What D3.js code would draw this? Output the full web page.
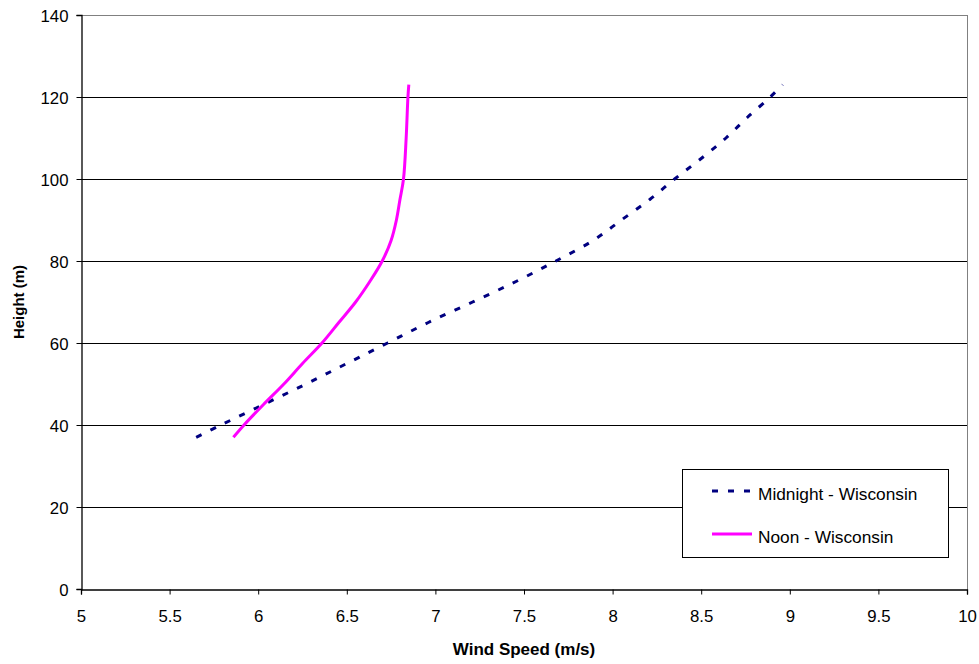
<!DOCTYPE html>
<html>
<head>
<meta charset="utf-8">
<script src="https://cdn.jsdelivr.net/npm/d3@7"></script>
<style>
  html, body { margin: 0; padding: 0; background: #fff; }
  svg { display: block; font-family: "Liberation Sans", Arial, sans-serif; }
</style>
</head>
<body>
<svg id="chart" width="979" height="664"></svg>
<script>
// ---- data ----
const xTicks = [5, 5.5, 6, 6.5, 7, 7.5, 8, 8.5, 9, 9.5, 10];
const yTicks = [0, 20, 40, 60, 80, 100, 120, 140];

const midnightHeight = [37, 40, 45, 50, 55, 60, 65, 70, 75, 80, 85, 90, 95, 100, 105, 110, 115, 120, 123];
const midnightSpeed  = [5.65, 5.79, 6.03, 6.27, 6.50, 6.73, 6.96, 7.21, 7.455, 7.68, 7.89, 8.05, 8.21, 8.35, 8.50, 8.64, 8.76, 8.89, 8.96];

const noonHeight = [37, 40, 45, 50, 55, 60, 65, 70, 75, 80, 85, 90, 95, 100, 110, 120, 123];
const noonSpeed  = [5.86, 5.92, 6.03, 6.145, 6.25, 6.36, 6.455, 6.55, 6.63, 6.70, 6.75, 6.78, 6.80, 6.82, 6.835, 6.845, 6.85];

const seriesNames = ["Midnight - Wisconsin", "Noon - Wisconsin"];

(function () {
// ---- layout ----
const svg = d3.select("#chart");
const pLeft = 81, pRight = 967, pTop = 15, pBottom = 589;

const x = d3.scaleLinear().domain([5, 10]).range([pLeft, pRight]);
const y = d3.scaleLinear().domain([0, 140]).range([pBottom, pTop]);

// gridlines
svg.append("g").selectAll("line")
  .data(yTicks.filter(d => d > 0 && d < 140))
  .join("line")
  .attr("x1", pLeft).attr("x2", pRight)
  .attr("y1", d => Math.round(y(d)) + 0.5).attr("y2", d => Math.round(y(d)) + 0.5)
  .attr("stroke", "#000").attr("stroke-width", 1);

// plot border (top and right, gray)
svg.append("line").attr("x1", pLeft).attr("x2", pRight + 0.5)
  .attr("y1", pTop + 0.5).attr("y2", pTop + 0.5).attr("stroke", "#808080");
svg.append("line").attr("x1", pRight + 0.5).attr("x2", pRight + 0.5)
  .attr("y1", pTop).attr("y2", pBottom).attr("stroke", "#808080");

// axes
const fontSize = 16.8;
const xAxis = svg.append("g").attr("transform", `translate(0,${pBottom + 0.5})`)
  .call(d3.axisBottom(x).tickValues(xTicks).tickFormat(d3.format("")).tickSize(5).tickPadding(16));
const yAxis = svg.append("g").attr("transform", `translate(${pLeft + 0.5},0)`)
  .call(d3.axisLeft(y).tickValues(yTicks).tickFormat(d3.format("")).tickSize(5).tickPadding(8));
[xAxis, yAxis].forEach(a => {
  a.select(".domain").attr("stroke", "#000").attr("stroke-width", 1.3);
  a.selectAll(".tick line").attr("stroke", "#000");
  a.selectAll("text").attr("font-size", fontSize).attr("fill", "#000")
    .attr("font-family", "'Liberation Sans', Arial, sans-serif");
});
yAxis.selectAll(".tick text").attr("dy", "0.36em");

// axis titles
svg.append("text").attr("x", (pLeft + pRight) / 2).attr("y", 655)
  .attr("text-anchor", "middle").attr("font-size", 17).attr("font-weight", "bold")
  .text("Wind Speed (m/s)");
svg.append("text").attr("transform", `translate(24,${(pTop + pBottom) / 2}) rotate(-90)`)
  .attr("text-anchor", "middle").attr("font-size", 15).attr("font-weight", "bold")
  .text("Height (m)");

// lines
const line = d3.line().x(d => x(d[0])).y(d => y(d[1])).curve(d3.curveCatmullRom);
const midnight = midnightSpeed.map((s, i) => [s, midnightHeight[i]]);
const noon = noonSpeed.map((s, i) => [s, noonHeight[i]]);

svg.append("path").datum(midnight).attr("d", line)
  .attr("fill", "none").attr("stroke", "#000080").attr("stroke-width", 3)
  .attr("stroke-dasharray", "6,10");
svg.append("path").datum(noon).attr("d", line)
  .attr("fill", "none").attr("stroke", "#FF00FF").attr("stroke-width", 3);

// legend
const lg = svg.append("g");
lg.append("rect").attr("x", 682.5).attr("y", 469.5).attr("width", 266).attr("height", 88)
  .attr("fill", "#fff").attr("stroke", "#000").attr("stroke-width", 1);
const legendItems = [
  { name: seriesNames[0], color: "#000080", dash: "6,10", yy: 491 },
  { name: seriesNames[1], color: "#FF00FF", dash: null, yy: 534 }
];
legendItems.forEach(it => {
  lg.append("line").attr("x1", 712).attr("x2", 752).attr("y1", it.yy).attr("y2", it.yy)
    .attr("stroke", it.color).attr("stroke-width", 3)
    .attr("stroke-dasharray", it.dash);
  lg.append("text").attr("x", 758).attr("y", it.yy + 9)
    .attr("font-size", 17.3).attr("fill", "#000").text(it.name);
});
})();
</script>
</body>
</html>
